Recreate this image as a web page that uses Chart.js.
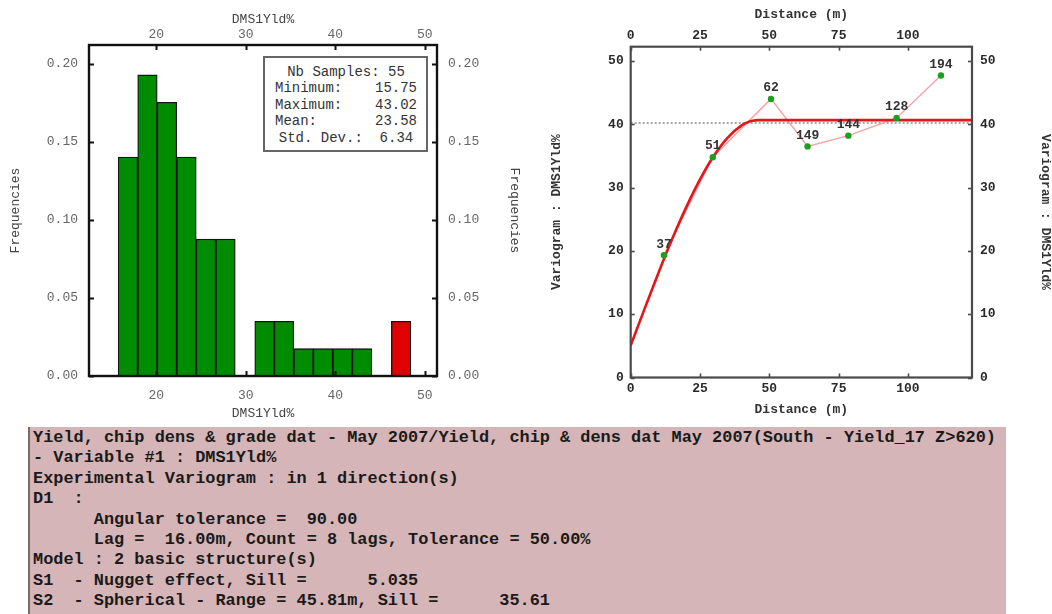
<!DOCTYPE html>
<html>
<head>
<meta charset="utf-8">
<script src="https://cdn.jsdelivr.net/npm/chart.js@4.4.0/dist/chart.umd.min.js"></script>
<style>
  html, body { margin: 0; padding: 0; background: #fff; width: 1052px; height: 614px; overflow: hidden; }
  body { position: relative; }
  #histWrap { position: absolute; left: 0; top: 0; width: 530px; height: 420px; }
  #varioWrap { position: absolute; left: 530px; top: 0; width: 522px; height: 420px; }
  #stats {
    position: absolute; left: 263px; top: 56px; width: 165px; height: 96px;
    box-sizing: border-box; border: 2px solid #666; background: #fff;
    font-family: "Liberation Mono", monospace; font-size: 14px; color: #333;
    padding: 6px 9px 0 10px; line-height: 16.4px;
  }
  #stats .row { display: flex; justify-content: space-between; white-space: pre; }
  #stats .center { justify-content: center; }
  #log {
    position: absolute; left: 28px; top: 427px; width: 978px; height: 200px;
    box-sizing: border-box; background: #d5b5b7; border-left: 2px solid #7a6a6b;
    font-family: "Liberation Mono", monospace; font-weight: bold; font-size: 16.9px;
    line-height: 20.4px; color: #1a1a1a; white-space: pre; padding: 1px 0 0 3px;
  }
</style>
</head>
<body>
<div id="histWrap"><canvas id="hist" width="530" height="420"></canvas></div>
<div id="varioWrap"><canvas id="vario" width="522" height="420"></canvas></div>
<div id="stats"></div>
<div id="log"></div>

<script>
// ---- Histogram of DMS1Yld% ----
const binEdges = [15.75, 17.93, 20.11, 22.29, 24.47, 26.65, 28.83, 31.01, 33.19,
                  35.37, 37.55, 39.73, 41.91, 44.09, 46.27, 48.45];
const binFreq  = [0.1404, 0.1930, 0.1754, 0.1404, 0.0877, 0.0877, 0, 0.0351, 0.0351,
                  0.0175, 0.0175, 0.0175, 0.0175, 0, 0.0351];
const binIsOutlier = [false, false, false, false, false, false, false, false, false,
                      false, false, false, false, false, true];
const histXTicks = [20, 30, 40, 50];
const histYTicks = [0, 0.05, 0.10, 0.15, 0.20];
const histXRange = [12.49, 51.37];
const histYRange = [0, 0.2122];

// ---- Summary statistics ----
const statLabels = ["Minimum:", "Maximum:", "Mean:"];
const statValues = ["15.75", "43.02", "23.58"];
const statSamples = "55";
const statStdDev = "6.34";

// ---- Experimental variogram (lag distance, gamma, pair count) ----
const lagDist  = [12.0, 29.6, 50.6, 63.8, 78.5, 95.9, 111.9];
const lagGamma = [19.3, 34.8, 44.0, 36.5, 38.2, 41.0, 47.7];
const lagPairs = [37, 51, 62, 149, 144, 128, 194];

// ---- Fitted model: nugget 5.035 + spherical (range 45.81 m, sill 35.61) ----
const modelDist  = [0, 5, 10, 15, 20, 25, 30, 35, 40, 42.5, 44, 45.81, 123.1];
const modelGamma = [5.04, 10.84, 16.51, 21.90, 26.87, 31.29, 35.02, 37.90, 39.82, 40.37, 40.56, 40.65, 40.65];
const sampleVariance = 40.2;

const varioXTicks = [0, 25, 50, 75, 100];
const varioYTicks = [0, 10, 20, 30, 40, 50];
const varioXRange = [0, 123.1];
const varioYRange = [0, 52.25];

// ---- Run log ----
const logLines = [
  "Yield, chip dens & grade dat - May 2007/Yield, chip & dens dat May 2007(South - Yield_17 Z>620)",
  "- Variable #1 : DMS1Yld%",
  "Experimental Variogram : in 1 direction(s)",
  "D1  :",
  "      Angular tolerance =  90.00",
  "      Lag =  16.00m, Count = 8 lags, Tolerance = 50.00%",
  "Model : 2 basic structure(s)",
  "S1  - Nugget effect, Sill =      5.035",
  "S2  - Spherical - Range = 45.81m, Sill =      35.61"
];

// Fill the statistics box and the log panel
(function () {
  const box = document.getElementById('stats');
  const addRow = (cls, parts) => {
    const r = document.createElement('div');
    r.className = 'row' + (cls ? ' ' + cls : '');
    parts.forEach(p => { const s = document.createElement('span'); s.textContent = p; r.appendChild(s); });
    box.appendChild(r);
  };
  addRow('center', ['Nb Samples: ' + statSamples]);
  statLabels.forEach((l, i) => addRow('', [l, statValues[i]]));
  addRow('center', ['Std. Dev.:  ' + statStdDev]);
  document.getElementById('log').textContent = logLines.join('\n');
})();

// Frame around the plot area plus inward tick marks on all four sides
const framePlugin = {
  id: 'frame',
  afterDatasetsDraw(chart, args, opts) {
    const { ctx, chartArea: a } = chart;
    ctx.save();
    ctx.strokeStyle = opts.color;
    ctx.lineWidth = opts.tickWidth;
    Object.values(chart.scales).forEach(s => {
      s.ticks.forEach(t => {
        const p = Math.round(s.getPixelForValue(t.value)) + 0.5;
        ctx.beginPath();
        if (s.position === 'bottom') { ctx.moveTo(p, a.bottom); ctx.lineTo(p, a.bottom - opts.len); }
        else if (s.position === 'top') { ctx.moveTo(p, a.top); ctx.lineTo(p, a.top + opts.len); }
        else if (s.position === 'left') { ctx.moveTo(a.left, p); ctx.lineTo(a.left + opts.len, p); }
        else { ctx.moveTo(a.right, p); ctx.lineTo(a.right - opts.len, p); }
        ctx.stroke();
      });
    });
    ctx.lineWidth = opts.width;
    ctx.strokeRect(a.left, a.top, a.right - a.left, a.bottom - a.top);
    ctx.restore();
  }
};

// Pair counts written above the experimental points
const pairLabelPlugin = {
  id: 'pairLabels',
  afterDatasetsDraw(chart, args, opts) {
    const idx = chart.data.datasets.findIndex(d => d.id === 'points');
    if (idx < 0) return;
    const meta = chart.getDatasetMeta(idx);
    const { ctx } = chart;
    ctx.save();
    ctx.font = opts.font;
    ctx.fillStyle = opts.color;
    ctx.textAlign = 'center';
    ctx.textBaseline = 'middle';
    meta.data.forEach((el, i) => ctx.fillText(String(lagPairs[i]), el.x, el.y - opts.offset));
    ctx.restore();
  }
};

function fixedSize(prop, v) { return s => { s[prop] = v; }; }
const noGrid = { display: false, drawTicks: false, tickLength: 0 };

// ---------- Histogram ----------
const histFont = { family: '"Liberation Mono", monospace', size: 13 };
const histTitleFont = { family: '"Liberation Mono", monospace', size: 13, lineHeight: 1 };
const hTicks = (fmt, pad) => ({
  font: histFont, color: '#666', maxRotation: 0, autoSkip: false, padding: pad,
  callback: v => fmt(v)
});
const keepTicks = list => s => { s.ticks = list.map(v => ({ value: v })); };

const histData = binFreq.map((f, i) => ({ x: (binEdges[i] + binEdges[i + 1]) / 2, y: f }));

new Chart(document.getElementById('hist'), {
  type: 'bar',
  data: {
    datasets: [{
      data: histData,
      backgroundColor: binIsOutlier.map(o => o ? '#e00000' : '#008c00'),
      borderColor: '#151515',
      borderWidth: 1.3,
      borderSkipped: 'start',
      barPercentage: 1,
      categoryPercentage: 1,
      xAxisID: 'x', yAxisID: 'y'
    }]
  },
  options: {
    responsive: false, animation: false,
    layout: { padding: 0 },
    plugins: {
      legend: { display: false }, tooltip: { enabled: false },
      frame: { color: '#111', width: 2.4, tickWidth: 2, len: 5 }
    },
    scales: {
      x: {
        type: 'linear', position: 'bottom', offset: false,
        min: histXRange[0], max: histXRange[1],
        grid: noGrid, border: { display: false },
        afterBuildTicks: keepTicks(histXTicks),
        ticks: hTicks(v => String(v), 12),
        title: { display: true, text: 'DMS1Yld%', font: histTitleFont, color: '#444', padding: { top: 0, bottom: 0 } },
        afterFit: fixedSize('height', 44)
      },
      x2: {
        type: 'linear', position: 'top', offset: false,
        min: histXRange[0], max: histXRange[1],
        grid: noGrid, border: { display: false },
        afterBuildTicks: keepTicks(histXTicks),
        ticks: hTicks(v => String(v), 3),
        title: { display: true, text: 'DMS1Yld%', font: histTitleFont, color: '#444', padding: { top: 13, bottom: 0 } },
        afterFit: fixedSize('height', 45)
      },
      y: {
        type: 'linear', position: 'left',
        min: histYRange[0], max: histYRange[1],
        grid: noGrid, border: { display: false },
        afterBuildTicks: keepTicks(histYTicks),
        ticks: hTicks(v => v.toFixed(2), 11),
        title: { display: true, text: 'Frequencies', font: histTitleFont, color: '#444', padding: { top: 9, bottom: 0 } },
        afterFit: fixedSize('width', 89)
      },
      y2: {
        type: 'linear', position: 'right',
        min: histYRange[0], max: histYRange[1],
        grid: noGrid, border: { display: false },
        afterBuildTicks: keepTicks(histYTicks),
        ticks: hTicks(v => v.toFixed(2), 11),
        title: { display: true, text: 'Frequencies', font: histTitleFont, color: '#444', padding: { top: 9, bottom: 0 } },
        afterFit: fixedSize('width', 93)
      }
    }
  },
  plugins: [framePlugin]
});

// ---------- Variogram ----------
const vFont = { family: '"Liberation Mono", monospace', size: 13, weight: 'bold' };
const vTitleFont = { family: '"Liberation Mono", monospace', size: 13, weight: 'bold', lineHeight: 1 };
const vTicks = pad => ({ font: vFont, color: '#2a2a2a', padding: pad, maxRotation: 0, autoSkip: false });

const lagPoints = lagDist.map((d, i) => ({ x: d, y: lagGamma[i] }));
const modelPoints = modelDist.map((d, i) => ({ x: d, y: modelGamma[i] }));

new Chart(document.getElementById('vario'), {
  type: 'scatter',
  data: {
    datasets: [
      {
        id: 'points', data: lagPoints, showLine: false, order: 0,
        pointRadius: 3.2, pointBackgroundColor: '#1e9e1e', pointBorderWidth: 0
      },
      {
        data: modelPoints, showLine: true, order: 1,
        borderColor: '#e3161b', borderWidth: 2.6, pointRadius: 0,
        cubicInterpolationMode: 'monotone'
      },
      {
        data: lagPoints, showLine: true, order: 2,
        borderColor: '#f7a2a2', borderWidth: 1.4, pointRadius: 0, tension: 0
      },
      {
        data: [{ x: varioXRange[0], y: sampleVariance }, { x: varioXRange[1], y: sampleVariance }],
        showLine: true, order: 3,
        borderColor: '#555', borderWidth: 1, borderDash: [2, 2], pointRadius: 0
      }
    ]
  },
  options: {
    responsive: false, animation: false,
    layout: { padding: 0 },
    plugins: {
      legend: { display: false }, tooltip: { enabled: false },
      frame: { color: '#4a4a4a', width: 2.2, tickWidth: 1.6, len: 4 },
      pairLabels: { font: 'bold 13px "Liberation Mono", monospace', color: '#333', offset: 11 }
    },
    scales: {
      x: {
        type: 'linear', position: 'bottom', min: varioXRange[0], max: varioXRange[1],
        grid: noGrid, border: { display: false },
        afterBuildTicks: keepTicks(varioXTicks),
        ticks: vTicks(3),
        title: { display: true, text: 'Distance (m)', font: vTitleFont, color: '#333', padding: { top: 0, bottom: 4 } },
        afterFit: fixedSize('height', 42.5)
      },
      x2: {
        type: 'linear', position: 'top', min: varioXRange[0], max: varioXRange[1],
        grid: noGrid, border: { display: false },
        afterBuildTicks: keepTicks(varioXTicks),
        ticks: vTicks(3),
        title: { display: true, text: 'Distance (m)', font: vTitleFont, color: '#333', padding: { top: 8.5, bottom: 0 } },
        afterFit: fixedSize('height', 46.7)
      },
      y: {
        type: 'linear', position: 'left', min: varioYRange[0], max: varioYRange[1],
        grid: noGrid, border: { display: false },
        afterBuildTicks: keepTicks(varioYTicks),
        ticks: vTicks(7),
        title: { display: true, text: 'Variogram : DMS1Yld%', font: vTitleFont, color: '#333', padding: { top: 20, bottom: 0 } },
        afterFit: fixedSize('width', 100.7)
      },
      y2: {
        type: 'linear', position: 'right', min: varioYRange[0], max: varioYRange[1],
        grid: noGrid, border: { display: false },
        afterBuildTicks: keepTicks(varioYTicks),
        ticks: vTicks(8),
        title: { display: true, text: 'Variogram : DMS1Yld%', font: vTitleFont, color: '#333', padding: { top: 0, bottom: 0 } },
        afterFit: fixedSize('width', 80)
      }
    }
  },
  plugins: [framePlugin, pairLabelPlugin]
});
</script>
</body>
</html>
